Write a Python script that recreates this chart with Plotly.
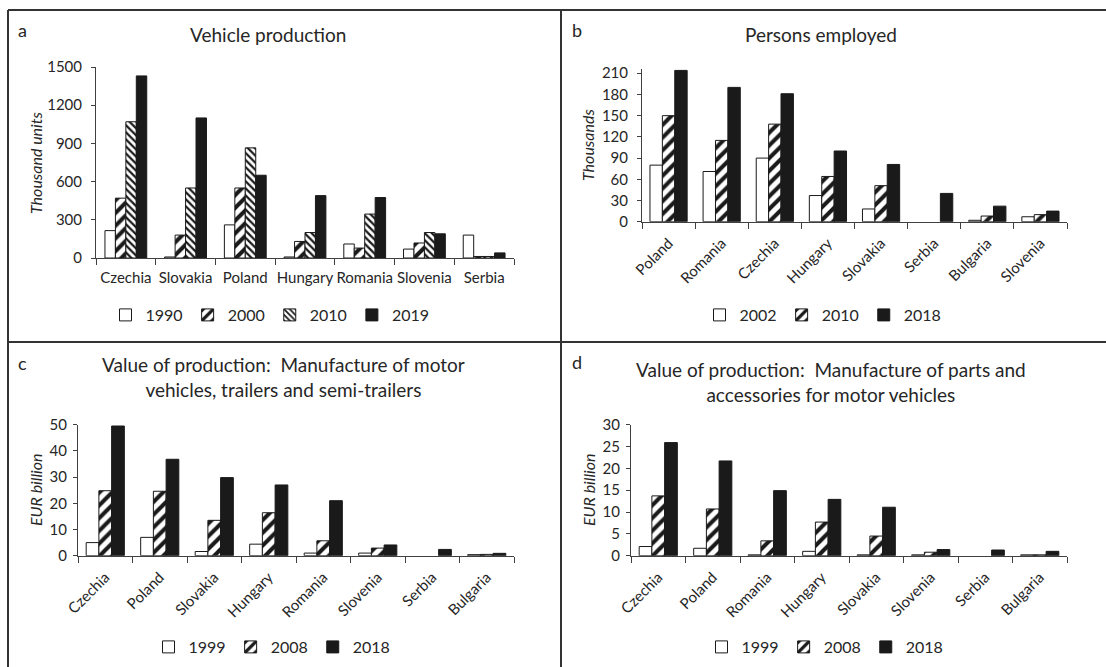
import plotly.graph_objects as go

# ---------------- data ----------------
a_countries = ["Czechia", "Slovakia", "Poland", "Hungary", "Romania", "Slovenia", "Serbia"]
a_1990 = [215, 8, 260, 8, 110, 70, 180]
a_2000 = [470, 180, 550, 130, 78, 118, 12]
a_2010 = [1070, 550, 865, 200, 345, 200, 12]
a_2019 = [1430, 1100, 650, 490, 475, 190, 40]
a_ticks = [0, 300, 600, 900, 1200, 1500]

b_countries = ["Poland", "Romania", "Czechia", "Hungary", "Slovakia", "Serbia", "Bulgaria", "Slovenia"]
b_2002 = [80, 71, 90, 37, 18, None, 2, 7]
b_2010 = [150, 115, 138, 64, 51, None, 8, 10]
b_2018 = [214, 190, 181, 100, 81, 40, 22, 15]
b_ticks = [0, 30, 60, 90, 120, 150, 180, 210]

c_countries = ["Czechia", "Poland", "Slovakia", "Hungary", "Romania", "Slovenia", "Serbia", "Bulgaria"]
c_1999 = [5.0, 7.0, 1.6, 4.4, 1.0, 1.0, None, 0.4]
c_2008 = [24.8, 24.6, 13.5, 16.4, 5.7, 2.9, None, 0.5]
c_2018 = [49.5, 36.8, 29.8, 27.0, 21.0, 4.1, 2.4, 0.9]
c_ticks = [0, 10, 20, 30, 40, 50]

d_countries = ["Czechia", "Poland", "Romania", "Hungary", "Slovakia", "Slovenia", "Serbia", "Bulgaria"]
d_1999 = [2.1, 1.7, 0.2, 1.0, 0.2, 0.2, None, 0.2]
d_2008 = [13.7, 10.7, 3.4, 7.7, 4.5, 0.8, None, 0.2]
d_2018 = [25.9, 21.7, 14.9, 12.9, 11.1, 1.4, 1.3, 1.0]
d_ticks = [0, 5, 10, 15, 20, 25, 30]

# ---------------- styling ----------------
W, H = 1106, 667
FONT = "Lato, 'Open Sans', sans-serif"
TXT = "#262626"
AX = "#404040"
BLACK = "#1a1a1a"


def px(x):
    return x / W


def py(y):
    return 1 - y / H


def style(kind):
    line = dict(color=BLACK, width=1)
    if kind == "white":
        return dict(color="white", line=line)
    if kind == "black":
        return dict(color=BLACK, line=line)
    if kind == "fwd":
        return dict(color="white", line=line,
                    pattern=dict(shape="/", fgcolor=BLACK, bgcolor="white",
                                 size=9, solidity=0.45, fillmode="replace"))
    if kind == "back":
        return dict(color="white", line=line,
                    pattern=dict(shape="\\", fgcolor=BLACK, bgcolor="white",
                                 size=5, solidity=0.45, fillmode="replace"))


fig = go.Figure()

panels = [
    ("x", "y", "legend", a_countries,
     [("1990", a_1990, "white"), ("2000", a_2000, "fwd"), ("2010", a_2010, "back"), ("2019", a_2019, "black")]),
    ("x2", "y2", "legend2", b_countries,
     [("2002", b_2002, "white"), ("2010", b_2010, "fwd"), ("2018", b_2018, "black")]),
    ("x3", "y3", "legend3", c_countries,
     [("1999", c_1999, "white"), ("2008", c_2008, "fwd"), ("2018", c_2018, "black")]),
    ("x4", "y4", "legend4", d_countries,
     [("1999", d_1999, "white"), ("2008", d_2008, "fwd"), ("2018", d_2018, "black")]),
]

for xa, ya, lg, cats, series in panels:
    for name, vals, kind in series:
        fig.add_trace(go.Bar(x=cats, y=vals, name=name, xaxis=xa, yaxis=ya,
                             legend=lg, marker=style(kind), showlegend=True))

xcommon = dict(type="category", showline=True, linecolor=AX, linewidth=1,
               ticks="outside", tickson="boundaries", ticklen=6, tickcolor=AX,
               showgrid=False, zeroline=False, ticklabelstandoff=6, automargin=False,
               tickfont=dict(family=FONT, size=15, color=TXT))
ycommon = dict(showline=True, linecolor=AX, linewidth=1, ticks="outside",
               ticklen=4, tickcolor=AX, showgrid=False, zeroline=False, automargin=False,
               ticklabelstandoff=6, tickfont=dict(family=FONT, size=15, color=TXT))

fig.update_layout(
    width=W, height=H, margin=dict(l=0, r=0, t=0, b=0, pad=0, autoexpand=False),
    paper_bgcolor="white", plot_bgcolor="white",
    barmode="group", bargap=0.3, bargroupgap=0,
    font=dict(family=FONT, color=TXT),
    xaxis=dict(xcommon, domain=[px(96), px(514)], anchor="y", range=[-0.5, 6.5], tickangle=0),
    yaxis=dict(ycommon, domain=[py(258), py(67)], anchor="x", range=[0, 1500], tickvals=a_ticks),
    xaxis2=dict(xcommon, domain=[px(642), px(1067)], anchor="y2", range=[-0.5, 7.5], tickangle=-45),
    yaxis2=dict(ycommon, domain=[py(221.7), py(69)], anchor="x2", range=[0, 216], tickvals=b_ticks),
    xaxis3=dict(xcommon, domain=[px(78), px(514)], anchor="y3", range=[-0.5, 7.5], tickangle=-45),
    yaxis3=dict(ycommon, domain=[py(555.7), py(424.7)], anchor="x3", range=[0, 50], tickvals=c_ticks,
                ticklabelstandoff=3),
    xaxis4=dict(xcommon, domain=[px(631), px(1067)], anchor="y4", range=[-0.5, 7.5], tickangle=-45),
    yaxis4=dict(ycommon, domain=[py(555.7), py(424.7)], anchor="x4", range=[0, 30], tickvals=d_ticks,
                ticklabelstandoff=3),
)

leg = dict(orientation="h", xanchor="center", yanchor="middle",
           font=dict(family=FONT, size=16, color=TXT), bgcolor="rgba(0,0,0,0)",
           itemwidth=30, traceorder="normal")
fig.update_layout(
    legend=dict(leg, x=px(270), y=py(315)),
    legend2=dict(leg, x=px(823), y=py(315)),
    legend3=dict(leg, x=px(272), y=py(647)),
    legend4=dict(leg, x=px(825), y=py(647)),
)


def ann(text, x, y, size, angle=0, anchor="center"):
    return dict(text=text, x=px(x), y=py(y), xref="paper", yref="paper",
                showarrow=False, xanchor=anchor, yanchor="middle", textangle=angle,
                font=dict(family=FONT, size=size, color=TXT))


fig.update_layout(annotations=[
    ann("a", 16, 30, 18, anchor="left"),
    ann("Vehicle production", 268, 35, 19),
    ann("<i>Thousand units</i>", 35, 163, 16, angle=-90),
    ann("b", 570, 30, 18, anchor="left"),
    ann("Persons employed", 821, 35, 19),
    ann("<i>Thousands</i>", 588, 145, 16, angle=-90),
    ann("c", 16, 363, 18, anchor="left"),
    ann("Value of production:  Manufacture of motor<br>vehicles, trailers and semi-trailers", 283, 377, 19),
    ann("<i>EUR billion</i>", 35, 490, 16, angle=-90),
    ann("d", 570, 362, 18, anchor="left"),
    ann("Value of production:  Manufacture of parts and<br>accessories for motor vehicles", 831, 382, 19),
    ann("<i>EUR billion</i>", 588, 490, 16, angle=-90),
])

bl = dict(color="#333333", width=2)
fig.update_layout(shapes=[
    dict(type="line", xref="paper", yref="paper", x0=px(8), x1=1, y0=py(10), y1=py(10), line=bl),
    dict(type="line", xref="paper", yref="paper", x0=px(8), x1=px(8), y0=py(10), y1=0, line=bl),
    dict(type="line", xref="paper", yref="paper", x0=px(561), x1=px(561), y0=py(10), y1=0, line=bl),
    dict(type="line", xref="paper", yref="paper", x0=px(8), x1=1, y0=py(342), y1=py(342), line=bl),
])

fig.write_html("out.html", config={"displayModeBar": False},
               post_script="document.body.style.margin='0';document.documentElement.style.overflow='hidden';")
